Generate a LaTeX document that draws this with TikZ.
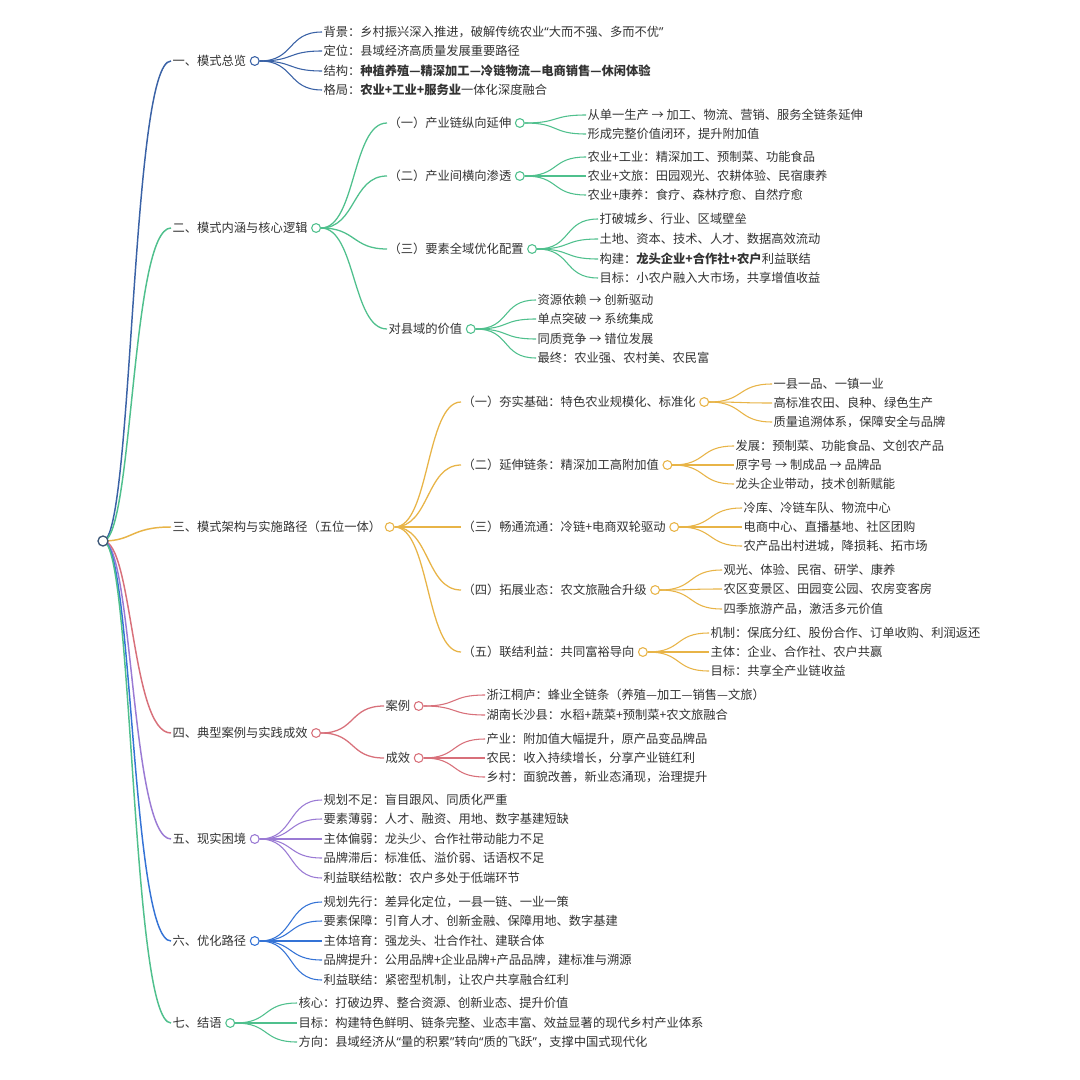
\documentclass[tikz,border=0pt]{standalone}
\usepackage{fontspec}
\setmainfont{Noto Sans CJK SC}
\newfontfamily\quo{Noto Sans}
\usetikzlibrary{positioning}
\definecolor{Ink}{HTML}{333333}
\definecolor{Navy}{HTML}{3E5878}
\definecolor{Cobalt}{HTML}{3A62A6}
\definecolor{Mint}{HTML}{4FC08D}
\definecolor{Amber}{HTML}{E8B447}
\definecolor{Rose}{HTML}{D8707A}
\definecolor{Lilac}{HTML}{9A7AD4}
\definecolor{Azure}{HTML}{3473D6}
\tikzset{
 lbl/.style={anchor=west,inner sep=1pt,text=Ink,font=\fontsize{9.2}{11}\selectfont},
 knob/.style={circle,draw,fill=white,line width=0.8pt,minimum size=6.6pt,inner sep=0pt,right=1.5pt of #1},
 trunk/.style={line width=1.1pt},
 limb/.style={line width=0.95pt},
 twig/.style={line width=0.8pt}
}

\begin{document}
\begin{tikzpicture}[x=0.75pt,y=-0.75pt]
\fill[white] (0,0) rectangle (1080,1080);
\useasboundingbox (0,0) rectangle (1080,1080);
% root and main branches
\node[lbl] (t1) at (171,61) {一、模式总览};
\node[lbl] (t2) at (171,228) {二、模式内涵与核心逻辑};
\node[lbl] (t3) at (171,527) {三、模式架构与实施路径（五位一体）};
\node[lbl] (t4) at (171,733) {四、典型案例与实践成效};
\node[lbl] (t5) at (171,839) {五、现实困境};
\node[lbl] (t6) at (171,941) {六、优化路径};
\node[lbl] (t7) at (171,1023) {七、结语};
\draw[trunk,Cobalt] (103,541) .. controls +(30,0) and +(-40,0) .. (t1.west);
\draw[trunk,Mint] (103,541) .. controls +(30,0) and +(-40,0) .. (t2.west);
\draw[trunk,Amber] (103,541) .. controls +(30,0) and +(-40,0) .. (t3.west);
\draw[trunk,Rose] (103,541) .. controls +(30,0) and +(-40,0) .. (t4.west);
\draw[trunk,Lilac] (103,541) .. controls +(30,0) and +(-40,0) .. (t5.west);
\draw[trunk,Azure] (103,541) .. controls +(30,0) and +(-40,0) .. (t6.west);
\draw[trunk,Mint] (103,541) .. controls +(30,0) and +(-40,0) .. (t7.west);
\node[circle,draw=Navy,fill=white,line width=1pt,minimum size=7.5pt,inner sep=0pt] (r) at (103,541) {};
\node[knob=t1,draw=Cobalt] (k1) {};
\node[knob=t2,draw=Mint] (k2) {};
\node[knob=t3,draw=Amber] (k3) {};
\node[knob=t4,draw=Rose] (k4) {};
\node[knob=t5,draw=Lilac] (k5) {};
\node[knob=t6,draw=Azure] (k6) {};
\node[knob=t7,draw=Mint] (k7) {};

% 一
\foreach \y/\lab [count=\i] in {32/{背景：乡村振兴深入推进，破解传统农业{\quo “}大而不强、多而不优{\quo ”}},51/{定位：县域经济高质量发展重要路径},71/{结构：\textbf{种植养殖—精深加工—冷链物流—电商销售—休闲体验}},90/{格局：\textbf{农业+工业+服务业}一体化深度融合}}{
 \node[lbl] (l1\i) at (322,\y) {\lab};
 \draw[twig,Cobalt] (k1.east) .. controls +(35,0) and +(-35,0) .. (l1\i.west);
}

% 二
\node[lbl] (t2a) at (387,123) {（一）产业链纵向延伸};
\node[lbl] (t2b) at (387,176) {（二）产业间横向渗透};
\node[lbl] (t2c) at (387,249) {（三）要素全域优化配置};
\node[lbl] (t2d) at (387,329) {对县域的价值};
\foreach \n in {t2a,t2b,t2c,t2d}
 \draw[limb,Mint] (k2.east) .. controls +(35,0) and +(-35,0) .. (\n.west);
\node[knob=t2a,draw=Mint] (k2a) {};
\node[knob=t2b,draw=Mint] (k2b) {};
\node[knob=t2c,draw=Mint] (k2c) {};
\node[knob=t2d,draw=Mint] (k2d) {};
\foreach \y/\lab [count=\i] in {115/{从单一生产 → 加工、物流、营销、服务全链条延伸},134/{形成完整价值闭环，提升附加值}}{
 \node[lbl] (l2a\i) at (586,\y) {\lab};
 \draw[twig,Mint] (k2a.east) .. controls +(35,0) and +(-35,0) .. (l2a\i.west);
}
\foreach \y/\lab [count=\i] in {157/{农业+工业：精深加工、预制菜、功能食品},176/{农业+文旅：田园观光、农耕体验、民宿康养},195/{农业+康养：食疗、森林疗愈、自然疗愈}}{
 \node[lbl] (l2b\i) at (586,\y) {\lab};
 \draw[twig,Mint] (k2b.east) .. controls +(35,0) and +(-35,0) .. (l2b\i.west);
}
\foreach \y/\lab [count=\i] in {219/{打破城乡、行业、区域壁垒},239/{土地、资本、技术、人才、数据高效流动},259/{构建：\textbf{龙头企业+合作社+农户}利益联结},278/{目标：小农户融入大市场，共享增值收益}}{
 \node[lbl] (l2c\i) at (598,\y) {\lab};
 \draw[twig,Mint] (k2c.east) .. controls +(35,0) and +(-35,0) .. (l2c\i.west);
}
\foreach \y/\lab [count=\i] in {300/{资源依赖 → 创新驱动},319/{单点突破 → 系统集成},339/{同质竞争 → 错位发展},358/{最终：农业强、农村美、农民富}}{
 \node[lbl] (l2d\i) at (536,\y) {\lab};
 \draw[twig,Mint] (k2d.east) .. controls +(35,0) and +(-35,0) .. (l2d\i.west);
}

% 三
\node[lbl] (t3a) at (461,402) {（一）夯实基础：特色农业规模化、标准化};
\node[lbl] (t3b) at (461,465) {（二）延伸链条：精深加工高附加值};
\node[lbl] (t3c) at (461,527) {（三）畅通流通：冷链+电商双轮驱动};
\node[lbl] (t3d) at (461,590) {（四）拓展业态：农文旅融合升级};
\node[lbl] (t3e) at (461,652) {（五）联结利益：共同富裕导向};
\foreach \n in {t3a,t3b,t3c,t3d,t3e}
 \draw[limb,Amber] (k3.east) .. controls +(35,0) and +(-35,0) .. (\n.west);
\node[knob=t3a,draw=Amber] (k3a) {};
\node[knob=t3b,draw=Amber] (k3b) {};
\node[knob=t3c,draw=Amber] (k3c) {};
\node[knob=t3d,draw=Amber] (k3d) {};
\node[knob=t3e,draw=Amber] (k3e) {};
\foreach \y/\lab [count=\i] in {384/{一县一品、一镇一业},403/{高标准农田、良种、绿色生产},422/{质量追溯体系，保障安全与品牌}}{
 \node[lbl] (l3a\i) at (772,\y) {\lab};
 \draw[twig,Amber] (k3a.east) .. controls +(35,0) and +(-35,0) .. (l3a\i.west);
}
\foreach \y/\lab [count=\i] in {446/{发展：预制菜、功能食品、文创农产品},465/{原字号 → 制成品 → 品牌品},484/{龙头企业带动，技术创新赋能}}{
 \node[lbl] (l3b\i) at (734,\y) {\lab};
 \draw[twig,Amber] (k3b.east) .. controls +(35,0) and +(-35,0) .. (l3b\i.west);
}
\foreach \y/\lab [count=\i] in {508/{冷库、冷链车队、物流中心},527/{电商中心、直播基地、社区团购},546/{农产品出村进城，降损耗、拓市场}}{
 \node[lbl] (l3c\i) at (742,\y) {\lab};
 \draw[twig,Amber] (k3c.east) .. controls +(35,0) and +(-35,0) .. (l3c\i.west);
}
\foreach \y/\lab [count=\i] in {570/{观光、体验、民宿、研学、康养},589/{农区变景区、田园变公园、农房变客房},609/{四季旅游产品，激活多元价值}}{
 \node[lbl] (l3d\i) at (722,\y) {\lab};
 \draw[twig,Amber] (k3d.east) .. controls +(35,0) and +(-35,0) .. (l3d\i.west);
}
\foreach \y/\lab [count=\i] in {633/{机制：保底分红、股份合作、订单收购、利润返还},652/{主体：企业、合作社、农户共赢},671/{目标：共享全产业链收益}}{
 \node[lbl] (l3e\i) at (709,\y) {\lab};
 \draw[twig,Amber] (k3e.east) .. controls +(35,0) and +(-35,0) .. (l3e\i.west);
}

% 四
\node[lbl] (t4a) at (384,706) {案例};
\node[lbl] (t4b) at (384,758) {成效};
\foreach \n in {t4a,t4b}
 \draw[limb,Rose] (k4.east) .. controls +(35,0) and +(-35,0) .. (\n.west);
\node[knob=t4a,draw=Rose] (k4a) {};
\node[knob=t4b,draw=Rose] (k4b) {};
\foreach \y/\lab [count=\i] in {695/{浙江桐庐：蜂业全链条（养殖—加工—销售—文旅）},715/{湖南长沙县：水稻+蔬菜+预制菜+农文旅融合}}{
 \node[lbl] (l4a\i) at (485,\y) {\lab};
 \draw[twig,Rose] (k4a.east) .. controls +(35,0) and +(-35,0) .. (l4a\i.west);
}
\foreach \y/\lab [count=\i] in {739/{产业：附加值大幅提升，原产品变品牌品},758/{农民：收入持续增长，分享产业链红利},777/{乡村：面貌改善，新业态涌现，治理提升}}{
 \node[lbl] (l4b\i) at (485,\y) {\lab};
 \draw[twig,Rose] (k4b.east) .. controls +(35,0) and +(-35,0) .. (l4b\i.west);
}

% 五
\foreach \y/\lab [count=\i] in {800/{规划不足：盲目跟风、同质化严重},819/{要素薄弱：人才、融资、用地、数字基建短缺},839/{主体偏弱：龙头少、合作社带动能力不足},858/{品牌滞后：标准低、溢价弱、话语权不足},878/{利益联结松散：农户多处于低端环节}}{
 \node[lbl] (l5\i) at (322,\y) {\lab};
 \draw[twig,Lilac] (k5.east) .. controls +(35,0) and +(-35,0) .. (l5\i.west);
}

% 六
\foreach \y/\lab [count=\i] in {902/{规划先行：差异化定位，一县一链、一业一策},921/{要素保障：引育人才、创新金融、保障用地、数字基建},941/{主体培育：强龙头、壮合作社、建联合体},960/{品牌提升：公用品牌+企业品牌+产品品牌，建标准与溯源},980/{利益联结：紧密型机制，让农户共享融合红利}}{
 \node[lbl] (l6\i) at (322,\y) {\lab};
 \draw[twig,Azure] (k6.east) .. controls +(35,0) and +(-35,0) .. (l6\i.west);
}

% 七
\foreach \y/\lab [count=\i] in {1003/{核心：打破边界、整合资源、创新业态、提升价值},1023/{目标：构建特色鲜明、链条完整、业态丰富、效益显著的现代乡村产业体系},1042/{方向：县域经济从{\quo “}量的积累{\quo ”}转向{\quo “}质的飞跃{\quo ”}，支撑中国式现代化}}{
 \node[lbl] (l7\i) at (297,\y) {\lab};
 \draw[twig,Mint] (k7.east) .. controls +(35,0) and +(-35,0) .. (l7\i.west);
}
\end{tikzpicture}
\end{document}
